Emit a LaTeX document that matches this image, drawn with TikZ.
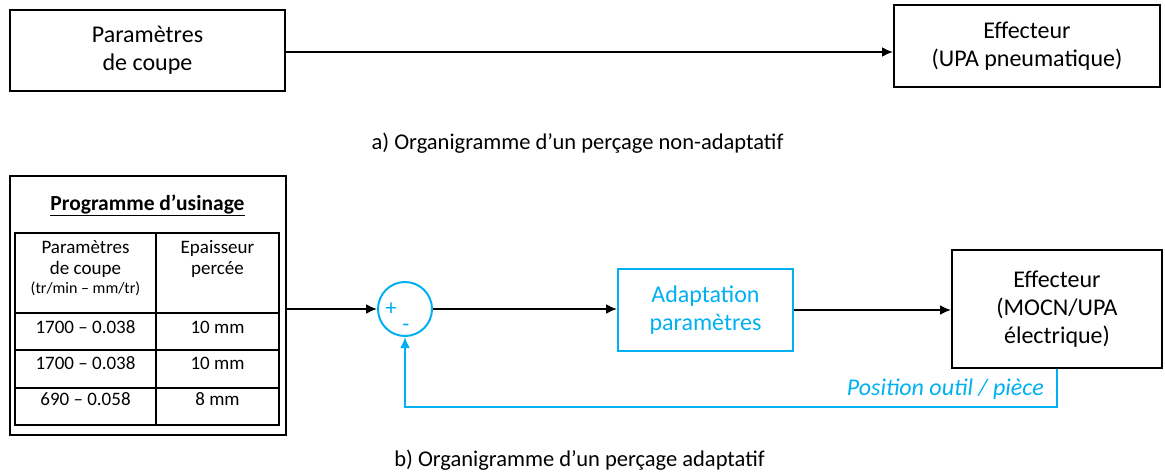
\documentclass[tikz,border=0pt]{standalone}
\usepackage{fontspec}
\setmainfont{Carlito}
\usetikzlibrary{arrows.meta,calc}
\definecolor{cy}{RGB}{0,176,240}
\begin{document}
\begin{tikzpicture}[x=1pt,y=-1pt,
  box/.style={draw, line width=2pt, inner sep=0pt, align=center, font=\fontsize{24}{28}\selectfont},
  cbox/.style={box, draw=cy, text=cy},
  cell/.style={draw, line width=1.8pt, inner sep=0pt},
  ctext/.style={font=\fontsize{19}{21}\selectfont, anchor=base, inner sep=0pt},
  stext/.style={font=\fontsize{16}{18}\selectfont, anchor=base, inner sep=0pt},
  caption/.style={font=\fontsize{22.5}{26}\selectfont, anchor=base, inner sep=0pt},
  sign/.style={text=cy, font=\fontsize{23}{24}\selectfont, inner sep=0pt},
  arr/.style={line width=2pt, -{Latex[length=11pt,width=10pt]}},
  carr/.style={arr, draw=cy, color=cy}
]
\useasboundingbox (0,0) rectangle (1165,472);

% a) non-adaptive
\node[box, minimum width=275pt, minimum height=81pt] (p1) at (147.5,50.5) {Paramètres\\de coupe};
\node[box, minimum width=266pt, minimum height=82pt] (e1) at (1027,46) {Effecteur\\(UPA pneumatique)};
\draw[arr] (p1.east |- 0,52) -- (e1.west |- 0,52);
\node[caption] (ca) at (577.5,149) {a) Organigramme d’un perçage non-adaptatif};

% b) adaptive: machining program
\node[draw, line width=2pt, minimum width=276pt, minimum height=259pt, inner sep=0pt] (prog) at (148,305.5) {};
\node[font=\bfseries\fontsize{21.5}{24}\selectfont, anchor=base, inner sep=0pt] (title) at (147.5,210) {\underline{Programme d’usinage}};

\node[cell, minimum width=141pt, minimum height=80pt] (c11) at (85.5,273) {};
\node[cell, minimum width=123pt, minimum height=80pt] (c12) at (217.5,273) {};
\node[cell, minimum width=141pt, minimum height=37pt] (c21) at (85.5,331.5) {};
\node[cell, minimum width=123pt, minimum height=37pt] (c22) at (217.5,331.5) {};
\node[cell, minimum width=141pt, minimum height=38pt] (c31) at (85.5,369) {};
\node[cell, minimum width=123pt, minimum height=38pt] (c32) at (217.5,369) {};
\node[cell, minimum width=141pt, minimum height=37pt] (c41) at (85.5,406.5) {};
\node[cell, minimum width=123pt, minimum height=37pt] (c42) at (217.5,406.5) {};

\node[ctext] (h1a) at (85.5,253) {Paramètres};
\node[ctext] (h1b) at (85.5,274) {de coupe};
\node[stext] (h1c) at (85.5,293) {(tr/min – mm/tr)};
\node[ctext] (h2a) at (217.5,253) {Epaisseur};
\node[ctext] (h2b) at (217.5,274) {percée};
\node[ctext] (r1a) at (85.5,333) {1700 – 0.038};
\node[ctext] (r1b) at (217.5,333) {10 mm};
\node[ctext] (r2a) at (85.5,369) {1700 – 0.038};
\node[ctext] (r2b) at (217.5,369) {10 mm};
\node[ctext] (r3a) at (85.5,405) {690 – 0.058};
\node[ctext] (r3b) at (217.5,405) {8 mm};

% summing junction
\node[circle, draw=cy, line width=2pt, minimum size=54pt, inner sep=0pt] (sum) at (405,309) {};
\node[sign] (plus) at (391,309) {+};
\node[sign] (minus) at (406,328) {-};

\node[cbox, minimum width=175pt, minimum height=82pt] (adapt) at (705.5,310) {Adaptation\\paramètres};
\node[box, minimum width=210pt, minimum height=118pt] (e2) at (1057,309) {Effecteur\\(MOCN/UPA\\électrique)};

\draw[arr] (prog.east |- sum.west) -- (sum.west);
\draw[arr] (sum.east) -- (adapt.west |- sum.east);
\draw[arr] (adapt.east) -- (e2.west |- adapt.east);
\draw[carr] (e2.south) -- (e2.south |- 0,407) -| (sum.south);
\node[text=cy, font=\itshape\fontsize{24}{28}\selectfont, anchor=base east, inner sep=0pt] (pos) at (1044,395) {Position outil / pièce};

\node[caption] (cb) at (579.5,466) {b) Organigramme d’un perçage adaptatif};
\end{tikzpicture}
\end{document}
